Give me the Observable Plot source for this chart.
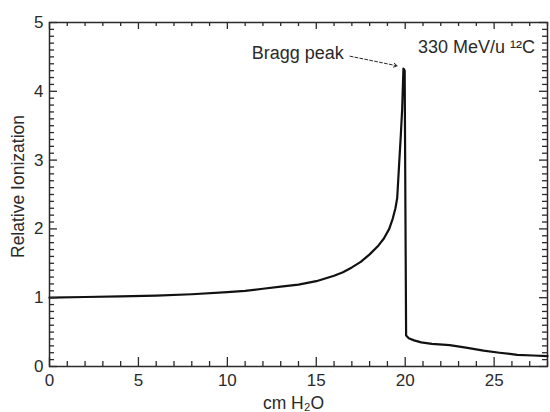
<!DOCTYPE html>
<html><head><meta charset="utf-8">
<script src="https://cdn.jsdelivr.net/npm/d3@7"></script>
<script src="https://cdn.jsdelivr.net/npm/@observablehq/plot@0.6"></script>
<style>
body{margin:0;background:#fff}
</style>
</head><body><div id="chart"></div>
<script>
// Depth in water (cm) and relative ionization
const depth = [0, 2, 4, 6, 8, 10, 11, 12, 13, 14, 15, 16, 16.5, 17, 17.5, 18, 18.5, 18.8, 19.1, 19.3, 19.45, 19.55, 19.66, 19.75, 19.83, 19.9, 19.97, 20.05, 20.2, 20.5, 20.9, 21.5, 22.5, 23.5, 24.4, 25.3, 26.3, 27.2, 28];
const ionization = [1.0, 1.01, 1.02, 1.03, 1.05, 1.08, 1.1, 1.13, 1.16, 1.19, 1.24, 1.32, 1.37, 1.44, 1.52, 1.63, 1.76, 1.86, 2.0, 2.15, 2.3, 2.45, 2.95, 3.35, 3.75, 4.33, 4.3, 0.45, 0.41, 0.38, 0.35, 0.33, 0.31, 0.27, 0.23, 0.2, 0.17, 0.16, 0.15];

const xMajor = [0, 5, 10, 15, 20, 25];
const xMinor = d3.range(0, 29).filter(v => v % 5 !== 0);
const yMajor = [0, 1, 2, 3, 4, 5];
const yMinor = d3.range(0, 51).map(v => v / 10).filter((v, i) => i % 10 !== 0);

const xLabel = ["cm H₂O"];
const yLabel = ["Relative Ionization"];
const peakLabel = [{x: 16.55, y: 4.55, text: "Bragg peak"}];
const peakArrow = [{x1: 16.9, y1: 4.51, x2: 19.55, y2: 4.37}];
const beamLabel = [{x: 27.3, y: 4.64, text: "330 MeV/u ¹²C"}];

const data = depth.map((d, i) => ({depth: d, ion: ionization[i]}));

const ink = "#2a2a2a";
const ff = "Liberation Sans, Arial, Helvetica, sans-serif";

const W = 550, H = 412, mL = 49, mR = 3, mT = 22, mB = 46;
const fw = W - mL - mR, fh = H - mT - mB;
const tk = {stroke: ink, strokeWidth: 1.3};

const chart = Plot.plot({
  width: W,
  height: H,
  marginLeft: mL,
  marginRight: mR,
  marginTop: mT,
  marginBottom: mB,
  x: {domain: [0, 28], axis: null},
  y: {domain: [0, 5], axis: null},
  marks: [
    Plot.frame({stroke: ink, strokeWidth: 1.5}),
    Plot.line(data, {x: "depth", y: "ion", stroke: "#111", strokeWidth: 2.2}),
    // inward ticks on all four sides
    Plot.tickX(xMinor, {x: d => d, insetTop: fh - 5, ...tk}),
    Plot.tickX(xMajor, {x: d => d, insetTop: fh - 9, ...tk}),
    Plot.tickX(xMinor, {x: d => d, insetBottom: fh - 4, ...tk}),
    Plot.tickX(xMajor, {x: d => d, insetBottom: fh - 7, ...tk}),
    Plot.tickY(yMinor, {y: d => d, insetRight: fw - 5, ...tk}),
    Plot.tickY(yMajor, {y: d => d, insetRight: fw - 8, ...tk}),
    Plot.tickY(yMinor, {y: d => d, insetLeft: fw - 5, ...tk}),
    Plot.tickY(yMajor, {y: d => d, insetLeft: fw - 8, ...tk}),
    // tick labels
    Plot.text(xMajor, {x: d => d, text: d => String(d), frameAnchor: "bottom", lineAnchor: "top", dy: 7, fill: ink, fontSize: 17, fontFamily: ff}),
    Plot.text(yMajor, {y: d => d, text: d => String(d), frameAnchor: "left", textAnchor: "end", lineAnchor: "middle", dx: -6, fill: ink, fontSize: 17, fontFamily: ff}),
    // axis titles
    Plot.text(xLabel, {text: d => d, frameAnchor: "bottom", lineAnchor: "middle", textAnchor: "middle", dx: -5, dy: 37, fill: ink, fontSize: 17.5, fontFamily: ff}),
    Plot.text(yLabel, {text: d => d, frameAnchor: "left", rotate: -90, textAnchor: "middle", lineAnchor: "middle", dx: -31, dy: -8, fill: ink, fontSize: 17.5, fontFamily: ff}),
    // annotations
    Plot.text(peakLabel, {x: "x", y: "y", text: "text", textAnchor: "end", fill: ink, fontSize: 18, fontFamily: ff}),
    Plot.arrow(peakArrow, {x1: "x1", y1: "y1", x2: "x2", y2: "y2", stroke: ink, strokeWidth: 1, strokeDasharray: "3,2", headLength: 6}),
    Plot.text(beamLabel, {x: "x", y: "y", text: "text", textAnchor: "end", fill: ink, fontSize: 18, fontFamily: ff})
  ]
});
document.getElementById("chart").append(chart);
</script>
</body></html>
